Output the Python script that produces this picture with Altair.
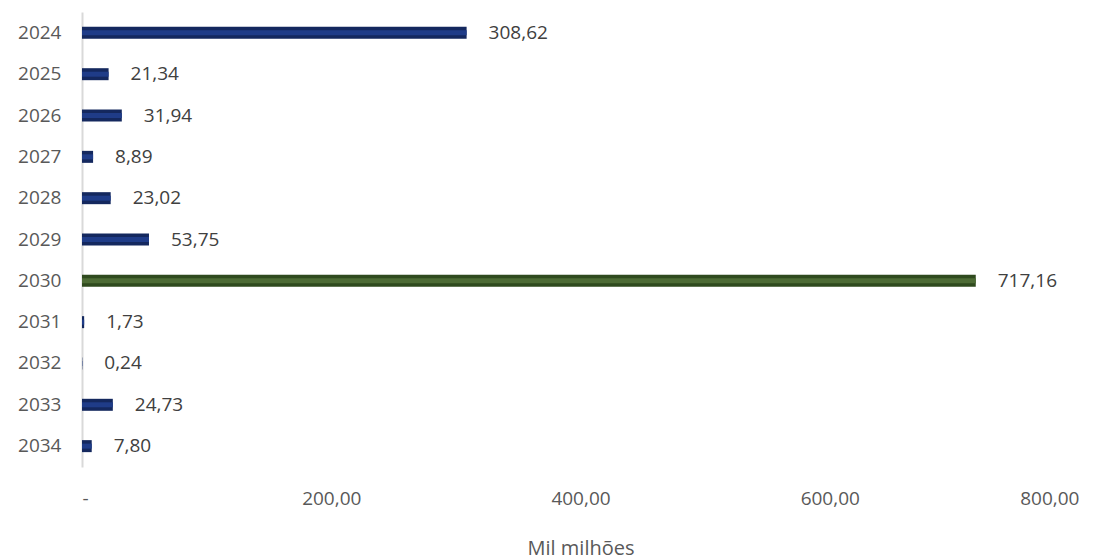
import altair as alt
import pandas as pd

# Annual amounts, in thousand millions
years = ["2024", "2025", "2026", "2027", "2028", "2029", "2030", "2031", "2032", "2033", "2034"]
values = [308.62, 21.34, 31.94, 8.89, 23.02, 53.75, 717.16, 1.73, 0.24, 24.73, 7.80]
highlight_year = "2030"

df = pd.DataFrame({"ano": years, "valor": values})
df["grupo"] = ["destaque" if y == highlight_year else "base" for y in years]

FONT = "Open Sans"
TEXT = "#404040"
AXIS_TEXT = "#595959"

x_enc = alt.X(
    "valor:Q",
    scale=alt.Scale(domain=[0, 800]),
    axis=alt.Axis(
        values=[0, 200, 400, 600, 800],
        labelExpr="datum.value == 0 ? '-' : replace(format(datum.value, '.2f'), '.', ',')",
        grid=False, domain=False, ticks=False,
        labelPadding=22, labelFontSize=19, labelColor=AXIS_TEXT, labelFont=FONT,
        title="Mil milhões", titleFontSize=20, titleFontWeight="normal",
        titleColor=AXIS_TEXT, titleFont=FONT, titlePadding=30,
    ),
)
y_enc = alt.Y(
    "ano:N",
    sort=years,
    scale=alt.Scale(paddingInner=0.71, paddingOuter=0.36),
    axis=alt.Axis(
        title=None, ticks=False, domainColor="#d9d9d9", domainWidth=2,
        labelPadding=21, labelFontSize=19, labelColor=AXIS_TEXT, labelFont=FONT,
    ),
)

base = alt.Chart(df).encode(y=y_enc)

# Dark outer bar with a lighter core stripe for a bevelled look
outer = base.mark_bar(size=12).encode(
    x=x_enc,
    color=alt.Color("grupo:N", scale=alt.Scale(domain=["base", "destaque"], range=["#14285e", "#2f4a1e"]), legend=None),
)
inner = base.mark_bar(size=5).encode(
    x=alt.X("valor:Q"),
    color=alt.Color("grupo:N", scale=alt.Scale(domain=["base", "destaque"], range=["#1f3c88", "#4d6b35"]), legend=None),
)
labels = base.mark_text(align="left", baseline="middle", dx=22, fontSize=19, font=FONT, color=TEXT).transform_calculate(
    rotulo="replace(format(datum.valor, '.2f'), '.', ',')"
).encode(x=alt.X("valor:Q"), text="rotulo:N")

chart = (
    alt.layer(outer, inner, labels)
    .resolve_scale(color="independent")
    .properties(
        width=997, height=455,
        autosize=alt.AutoSizeParams(type="none"),
        padding={"left": 82, "top": 12, "right": 35, "bottom": 92},
        background="white",
    )
    .configure_view(stroke=None)
)

chart.save("out.html", embed_options={"renderer": "svg", "actions": False})
